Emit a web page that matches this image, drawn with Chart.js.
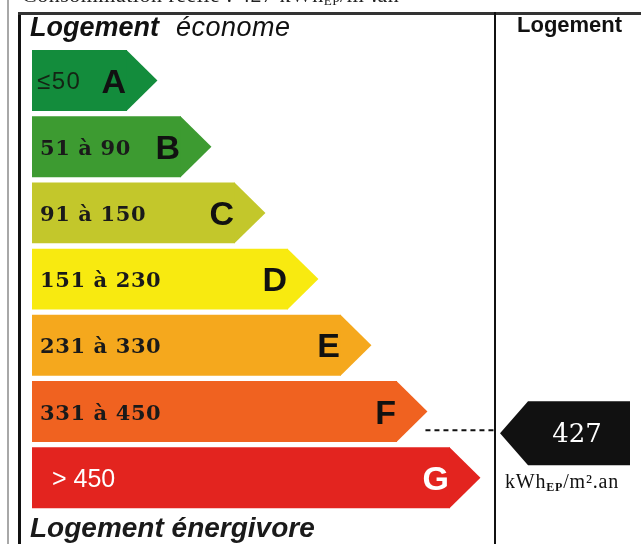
<!DOCTYPE html>
<html>
<head>
<meta charset="utf-8">
<script src="https://cdn.jsdelivr.net/npm/chart.js@4"></script>
<style>
  body { margin: 0; background: #fff; }
  #wrap { position: relative; width: 641px; height: 544px; overflow: hidden; background: #fff; }
  #chart { position: absolute; left: 0; top: 0; }
  .txt { position: absolute; white-space: nowrap; color: #111; }
  #topText { left: 22px; top: -16.5px; font: 22px "Liberation Serif", serif; line-height: 22px; color: #222; letter-spacing: 0.5px; }
  #topText sub, #unit sub { font-size: 60%; vertical-align: -3px; }
  #econome { left: 30px; top: 14px; font: italic bold 27px "Liberation Sans", Arial, sans-serif; line-height: 27px; }
  #econome span { font-weight: normal; margin-left: 17px; letter-spacing: 0.5px; }
  #energivore { left: 30px; top: 514px; font: italic bold 28px "Liberation Sans", Arial, sans-serif; line-height: 27px; color: #1a1a1a; }
  #colHead { left: 517px; top: 14px; font: bold 22px "Liberation Sans", Arial, sans-serif; line-height: 22px; }
  #unit { left: 505px; top: 472px; font: 20px "Liberation Serif", serif; line-height: 18px; letter-spacing: 0.8px; }
  #unit sub { font-weight: bold; }
  .line { position: absolute; background: #111; }
</style>
</head>
<body>
<div id="wrap">
  <canvas id="chart" width="641" height="544"></canvas>
  <div class="line" style="left:7px;top:0;width:2px;height:544px;background:#a8a8a8"></div>
  <div class="line" style="left:18px;top:12px;width:3px;height:532px"></div>
  <div class="line" style="left:18px;top:12px;width:623px;height:3px;background:#333"></div>
  <div class="line" style="left:494px;top:12px;width:2px;height:532px"></div>
  <div class="txt" id="topText">Consommation réelle : 427 kWh<sub>EP</sub>/m².an</div>
  <div class="txt" id="econome">Logement<span>économe</span></div>
  <div class="txt" id="energivore">Logement énergivore</div>
  <div class="txt" id="colHead">Logement</div>
  <div class="txt" id="unit">kWh<sub>EP</sub>/m².an</div>
</div>
<script>
// classes du DPE
const classes = ['A', 'B', 'C', 'D', 'E', 'F', 'G'];
const ranges = ['≤50', '51 à 90', '91 à 150', '151 à 230', '231 à 330', '331 à 450', '> 450'];
const lowBounds = [0, 51, 91, 151, 231, 331, 451];
const highBounds = [50, 90, 150, 230, 330, 450, 600];
// longueur des fleches
const barLengths = [95, 149, 203, 256, 309, 365, 418];
const consumption = 427;

const colors = ['#138c3c', '#3d9b31', '#c3c72b', '#f8ea10', '#f5a81d', '#f06220', '#e3241f'];
const letterColors = ['#111', '#111', '#111', '#111', '#111', '#111', '#fff'];

// trouver la classe du logement
const classIndex = highBounds.findIndex(h => consumption <= h);

const arrowPlugin = {
  id: 'arrows',
  afterDatasetsDraw(chart) {
    const ctx = chart.ctx;
    const bars = chart.getDatasetMeta(0).data;
    bars.forEach((bar, i) => {
      const h = bar.height;
      const top = bar.y - h / 2;
      const tip = h / 2;
      // pointe de la fleche
      ctx.fillStyle = colors[i];
      ctx.beginPath();
      ctx.moveTo(bar.x - 0.5, top);
      ctx.lineTo(bar.x + tip, bar.y);
      ctx.lineTo(bar.x - 0.5, top + h);
      ctx.closePath();
      ctx.fill();

      // texte de la plage
      ctx.textAlign = 'left';
      ctx.textBaseline = 'alphabetic';
      if (i === 0) {
        ctx.font = '24px "Liberation Sans", Arial, sans-serif';
        ctx.fillStyle = '#142414';
        ctx.letterSpacing = '1.5px';
        ctx.fillText(ranges[i], bar.base + 5, bar.y + 8);
        ctx.letterSpacing = '0px';
      } else if (i === 6) {
        ctx.font = '25px "Liberation Sans", Arial, sans-serif';
        ctx.fillStyle = '#fff';
        ctx.fillText(ranges[i], bar.base + 20, bar.y + 9);
      } else {
        ctx.font = 'bold 21px "DejaVu Serif", serif';
        ctx.fillStyle = '#1a1a1a';
        ctx.letterSpacing = '0.6px';
        ctx.fillText(ranges[i], bar.base + 8, bar.y + 8);
        ctx.letterSpacing = '0px';
      }

      // lettre
      ctx.font = 'bold 34px "Liberation Sans", Arial, sans-serif';
      ctx.fillStyle = letterColors[i];
      ctx.textAlign = 'right';
      ctx.fillText(classes[i], bar.x - 1, bar.y + 12);
    });

    // indicateur du logement
    const bar = bars[classIndex];
    const frac = (consumption - lowBounds[classIndex]) / (highBounds[classIndex] - lowBounds[classIndex]);
    const yInd = bar.y - bar.height / 2 + frac * bar.height;
    const right = chart.chartArea.right;
    ctx.save();
    ctx.strokeStyle = '#111';
    ctx.lineWidth = 2;
    ctx.setLineDash([5, 4]);
    ctx.beginPath();
    ctx.moveTo(bar.x + bar.height / 2 - 2, yInd);
    ctx.lineTo(right + 2, yInd);
    ctx.stroke();
    ctx.restore();

    const cy = yInd + 3;
    ctx.fillStyle = '#111';
    ctx.beginPath();
    ctx.moveTo(right + 5, cy);
    ctx.lineTo(right + 33, cy - 32);
    ctx.lineTo(right + 135, cy - 32);
    ctx.lineTo(right + 135, cy + 32);
    ctx.lineTo(right + 33, cy + 32);
    ctx.closePath();
    ctx.fill();

    ctx.font = '26px "DejaVu Serif", serif';
    ctx.fillStyle = '#fff';
    ctx.textAlign = 'center';
    ctx.fillText(String(consumption), right + 82, cy + 9);
  }
};

new Chart(document.getElementById('chart'), {
  type: 'bar',
  data: {
    labels: classes,
    datasets: [{
      data: barLengths,
      backgroundColor: colors,
      borderWidth: 0,
      barPercentage: 0.92,
      categoryPercentage: 1
    }]
  },
  options: {
    indexAxis: 'y',
    responsive: false,
    animation: false,
    devicePixelRatio: 1,
    layout: { padding: { left: 32, right: 146, top: 47.4, bottom: 33.2 } },
    plugins: { legend: { display: false }, tooltip: { enabled: false } },
    scales: {
      x: { display: false, min: 0, max: 463 },
      y: { display: false }
    }
  },
  plugins: [arrowPlugin]
});
</script>
</body>
</html>
